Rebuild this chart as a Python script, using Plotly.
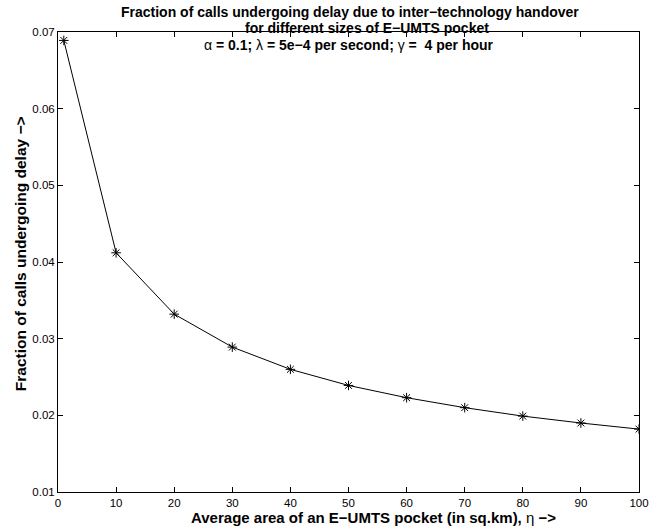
import plotly.graph_objects as go

area = [1, 10, 20, 30, 40, 50, 60, 70, 80, 90, 100]
fraction = [0.0689, 0.0412, 0.0332, 0.0289, 0.0260, 0.0239, 0.0223, 0.0210, 0.0199, 0.0190, 0.0182]
x_ticks = [0, 10, 20, 30, 40, 50, 60, 70, 80, 90, 100]
y_ticks = [0.01, 0.02, 0.03, 0.04, 0.05, 0.06, 0.07]

font = "Liberation Sans, Arial, Helvetica, sans-serif"

fig = go.Figure()
fig.add_trace(go.Scatter(
    x=area, y=fraction, mode="lines+markers",
    line=dict(color="black", width=1),
    marker=dict(symbol="asterisk-open", size=8, color="black", line=dict(color="black", width=1)),
    showlegend=False,
))

axis_common = dict(
    showline=True, linecolor="black", linewidth=1, mirror="ticks",
    ticks="inside", ticklen=5, tickcolor="black", tickwidth=1,
    showgrid=False, zeroline=False,
    tickfont=dict(family=font, size=11.5, color="black"),
)

def ann(text, x, y, size, xanchor="center", textangle=0):
    return dict(text=text, x=x, y=y, xref="paper", yref="paper",
                xanchor=xanchor, yanchor="middle", showarrow=False,
                textangle=textangle,
                font=dict(family=font, size=size, color="black"))

fig.update_layout(
    width=661, height=531,
    margin=dict(l=58, r=22, t=32, b=39),
    paper_bgcolor="white", plot_bgcolor="white",
    font=dict(family=font, color="black"),
    xaxis=dict(range=[0, 100], tickvals=x_ticks, ticktext=[str(v) for v in x_ticks],
               **axis_common),
    yaxis=dict(range=[0.01, 0.07], tickvals=y_ticks, ticktext=[f"{v:.2f}" for v in y_ticks],
               **axis_common),
    annotations=[
        ann("<b>Fraction of calls undergoing delay due to inter−technology handover</b>", 0.5026, 1.0435, 14),
        ann("<b>for different sizes of E−UMTS pocket</b>", 0.5327, 1.0087, 14),
        ann("α<b> = 0.1; </b>λ<b> = 5e−4 per second; </b>γ<b> =  4 per hour</b>", 0.501, 0.9717, 14),
        ann("<b>Average area of an E−UMTS pocket (in sq.km), </b>η<b> −></b>", 0.2255, -0.0565, 15, xanchor="left"),
        ann("<b>Fraction of calls undergoing delay −></b>", -0.0654, 0.517, 15.5, textangle=-90),
    ],
)

fig.write_html("out.html")
